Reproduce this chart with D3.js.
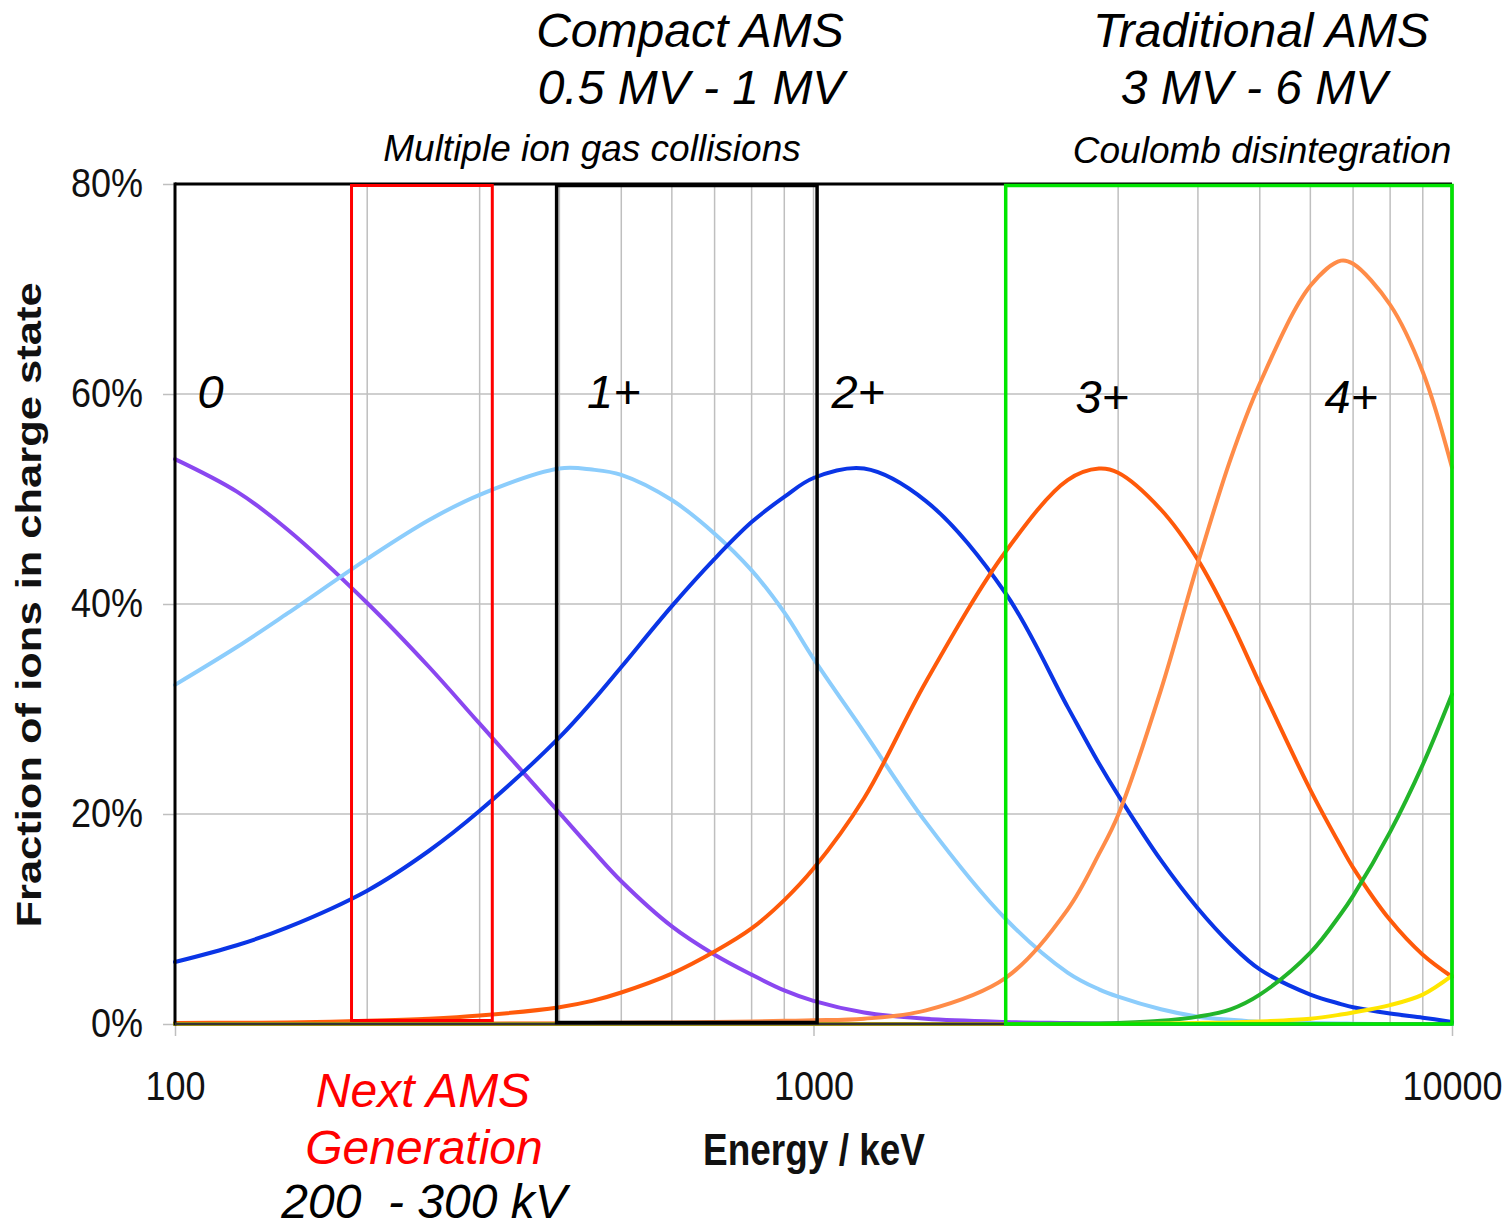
<!DOCTYPE html>
<html>
<head>
<meta charset="utf-8">
<script src="https://cdn.jsdelivr.net/npm/d3@7"></script>
<style>
  html, body { margin: 0; padding: 0; background: #fff; }
  svg { display: block; }
  text { font-family: "Liberation Sans", Arial, sans-serif; }
</style>
</head>
<body>
<svg id="chart" width="1508" height="1228"></svg>
<script>
// Beam energy (keV) at which the charge-state fractions are tabulated
const energies = [100, 125, 150, 200, 250, 300, 400, 450, 500, 600, 700, 800, 900, 1000, 1200,
                  1500, 2000, 2500, 2800, 3000, 3500, 4000, 4500, 5000, 6000, 6700, 7000, 8000, 9000, 10000];

// Fraction of ions (%) in each charge state
const charge0 = [53.8, 50.7, 47.1, 40.1, 34.0, 28.6, 20.1, 16.6, 13.6, 9.3, 6.6, 4.7, 3.2, 2.2, 1.1,
                 0.5, 0.2, 0.1, 0.05, 0.03, 0, 0, 0, 0, 0, 0, 0, 0, 0, 0];
const charge1 = [32.3, 35.9, 39.1, 44.3, 48.0, 50.4, 52.9, 52.8, 52.3, 49.9, 46.7, 43.2, 39.2, 34.8, 27.8,
                 19.2, 10.0, 4.9, 3.3, 2.6, 1.4, 0.7, 0.4, 0.2, 0.1, 0.05, 0.03, 0, 0, 0];
const charge2 = [5.9, 7.5, 9.2, 12.7, 16.5, 20.3, 27.3, 30.7, 34.0, 39.8, 44.3, 47.8, 50.2, 52.0, 52.9,
                 49.8, 41.0, 30.2, 24.8, 21.8, 15.6, 11.0, 7.6, 5.2, 2.8, 1.9, 1.6, 1.0, 0.6, 0.2];
const charge3 = [0.1, 0.12, 0.15, 0.3, 0.5, 0.8, 1.6, 2.2, 3.0, 4.8, 6.9, 9.1, 11.8, 14.8, 21.5,
                 32.6, 45.0, 51.8, 52.9, 52.5, 49.0, 44.2, 38.4, 32.4, 22.3, 16.9, 14.9, 9.9, 6.6, 4.5];
const charge4 = [0, 0, 0, 0.02, 0.03, 0.05, 0.08, 0.1, 0.12, 0.15, 0.2, 0.25, 0.3, 0.35, 0.5,
                 1.3, 4.4, 10.9, 16.2, 19.9, 31.8, 43.9, 53.8, 61.0, 70.3, 72.7, 72.4, 68.5, 62.1, 53.0];
const charge5 = [0, 0, 0, 0, 0, 0, 0, 0, 0, 0, 0, 0, 0, 0, 0,
                 0, 0, 0.02, 0.05, 0.1, 0.3, 0.7, 1.4, 2.8, 6.8, 10.5, 12.2, 18.3, 24.7, 31.4];
const charge6 = [0, 0, 0, 0, 0, 0, 0, 0, 0, 0, 0, 0, 0, 0, 0,
                 0, 0, 0, 0, 0, 0.05, 0.1, 0.15, 0.25, 0.5, 0.9, 1.1, 1.8, 2.8, 4.6];

const seriesNames = ["0", "1+", "2+", "3+", "4+", "5+", "6+"];
const seriesValues = [charge0, charge1, charge2, charge3, charge4, charge5, charge6];

// Axis ticks
const yTicks = [0, 20, 40, 60, 80];
const xTicks = [100, 1000, 10000];
const xMinorGrid = [200, 300, 400, 500, 600, 700, 800, 900, 1000, 2000, 3000, 4000, 5000, 6000, 7000, 8000, 9000];

// Charge-state labels: text, energy (keV), fraction (%)
const stateLabelText = ["0", "1+", "2+", "3+", "4+"];
const stateLabelEnergy = [108.5, 442, 1067, 2572, 6314];
const stateLabelFraction = [58.7, 58.7, 58.7, 58.2, 58.2];

// Accelerator energy windows (keV)
const windowNames = ["Next AMS Generation", "Compact AMS", "Traditional AMS"];
const windowLow = [189, 396, 2000];
const windowHigh = [314, 1013, 10000];

// ---- styling ----
const lineColors = ["#8a47f0", "#8ccdfc", "#0a35e6", "#ff5a0a", "#ff8c48", "#22b52a", "#ffe600"];
const windowColors = ["#ff0000", "#000000", "#00e600"];
const gridColor = "#bfbfbf";

const svg = d3.select("#chart");
const x = d3.scaleLog().domain([100, 10000]).range([175, 1452]);
const y = d3.scaleLinear().domain([0, 80]).range([1024, 184]);

// grid
const grid = svg.append("g");
grid.selectAll("line.v").data(xMinorGrid).join("line")
  .attr("x1", d => x(d)).attr("x2", d => x(d))
  .attr("y1", y(80)).attr("y2", y(0))
  .attr("stroke", gridColor).attr("stroke-width", 1.5);
grid.selectAll("line.h").data([20, 40, 60]).join("line")
  .attr("x1", x(100)).attr("x2", x(10000))
  .attr("y1", d => y(d)).attr("y2", d => y(d))
  .attr("stroke", gridColor).attr("stroke-width", 1.5);

// y axis
const xStretch = 0.9;
const yAxis = svg.append("g").attr("transform", `translate(${x(100)},0)`)
  .call(d3.axisLeft(y).tickValues(yTicks).tickSize(12).tickPadding(20).tickFormat(d => d + "%"));
yAxis.select(".domain").remove();
yAxis.selectAll(".tick line").attr("stroke", gridColor).attr("stroke-width", 1.5);
yAxis.selectAll(".tick text")
  .attr("font-size", 40).attr("fill", "#111")
  .attr("x", -32 / xStretch)
  .attr("transform", `scale(${xStretch},1)`)
  .style("font-family", "'Liberation Sans', Arial, sans-serif");

// x axis
const xAxis = svg.append("g").attr("transform", `translate(0,${y(0)})`)
  .call(d3.axisBottom(x).tickValues(xTicks).tickSize(12).tickPadding(36).tickFormat(d3.format("d")));
xAxis.select(".domain").remove();
xAxis.selectAll(".tick line").attr("stroke", gridColor).attr("stroke-width", 1.5);
xAxis.selectAll(".tick text")
  .attr("font-size", 40).attr("fill", "#111")
  .attr("x", 0)
  .attr("transform", `scale(${xStretch},1)`)
  .style("font-family", "'Liberation Sans', Arial, sans-serif");

// curves
const line = d3.line()
  .x(d => x(d[0]))
  .y(d => y(Math.max(0, d[1])))
  .curve(d3.curveCatmullRom.alpha(0.5));

svg.append("g").selectAll("path")
  .data(seriesValues.map((vals, i) => ({ name: seriesNames[i], pts: energies.map((e, k) => [e, vals[k]]), i })))
  .join("path")
  .attr("d", d => line(d.pts))
  .attr("fill", "none")
  .attr("stroke", d => lineColors[d.i])
  .attr("stroke-width", 4)
  .attr("stroke-linejoin", "round")
  .attr("stroke-linecap", "round");

// plot frame
const frame = svg.append("g");
frame.append("line").attr("x1", x(100)).attr("x2", x(10000)).attr("y1", y(80)).attr("y2", y(80))
  .attr("stroke", "#000").attr("stroke-width", 3);
frame.append("line").attr("x1", x(100)).attr("x2", x(100)).attr("y1", y(80) - 1.5).attr("y2", y(0) + 1.5)
  .attr("stroke", "#000").attr("stroke-width", 3);
frame.append("line").attr("x1", x(100)).attr("x2", x(10000)).attr("y1", y(0)).attr("y2", y(0))
  .attr("stroke", "#333").attr("stroke-width", 3);
frame.append("line").attr("x1", x(10000)).attr("x2", x(10000)).attr("y1", y(80)).attr("y2", y(0))
  .attr("stroke", "#555").attr("stroke-width", 3);

// energy windows
const windowInsetBottom = [3.5, 1.5, 0];
svg.append("g").selectAll("rect")
  .data(windowNames.map((n, i) => i))
  .join("rect")
  .attr("x", i => x(windowLow[i]))
  .attr("y", y(80) + 1.5)
  .attr("width", i => x(windowHigh[i]) - x(windowLow[i]))
  .attr("height", i => y(0) - y(80) - 1.5 - windowInsetBottom[i])
  .attr("fill", "none")
  .attr("stroke", i => windowColors[i])
  .attr("stroke-width", i => i === 0 ? 3 : 3.5);

// charge-state labels
svg.append("g").selectAll("text")
  .data(stateLabelText.map((t, i) => i))
  .join("text")
  .attr("x", i => x(stateLabelEnergy[i]))
  .attr("y", i => y(stateLabelFraction[i]))
  .attr("font-size", 47)
  .attr("font-style", "italic")
  .attr("fill", "#000")
  .text(i => stateLabelText[i]);

// annotations above the plot
const ann = svg.append("g").attr("font-style", "italic").attr("text-anchor", "middle").attr("fill", "#000");
ann.append("text").attr("x", 690).attr("y", 47).attr("font-size", 48).text("Compact AMS");
ann.append("text").attr("x", 691).attr("y", 104).attr("font-size", 48).text("0.5 MV - 1 MV");
ann.append("text").attr("x", 1261).attr("y", 47).attr("font-size", 48).text("Traditional AMS");
ann.append("text").attr("x", 1254).attr("y", 104).attr("font-size", 48).text("3 MV - 6 MV");
ann.append("text").attr("x", 592).attr("y", 161).attr("font-size", 37).text("Multiple ion gas collisions");
ann.append("text").attr("x", 1262).attr("y", 163).attr("font-size", 37).text("Coulomb disintegration");

// annotation below the axis
const low = svg.append("g").attr("font-style", "italic").attr("text-anchor", "middle");
low.append("text").attr("x", 423).attr("y", 1107).attr("font-size", 48).attr("fill", "#ff0000").text("Next AMS");
low.append("text").attr("x", 424).attr("y", 1164).attr("font-size", 48).attr("fill", "#ff0000").text("Generation");
low.append("text").attr("x", 424).attr("y", 1218).attr("font-size", 48).attr("fill", "#000")
  .style("white-space", "pre").text("200  - 300 kV");

// axis titles
svg.append("text")
  .attr("transform", "translate(814,1165) scale(0.84,1)")
  .attr("text-anchor", "middle")
  .attr("font-size", 44).attr("font-weight", "bold").attr("fill", "#111")
  .text("Energy / keV");
svg.append("text")
  .attr("transform", "translate(41,605) rotate(-90) scale(1,0.82)")
  .attr("text-anchor", "middle")
  .attr("font-size", 43.5).attr("font-weight", "bold").attr("fill", "#111")
  .text("Fraction of ions in charge state");
</script>
</body>
</html>
